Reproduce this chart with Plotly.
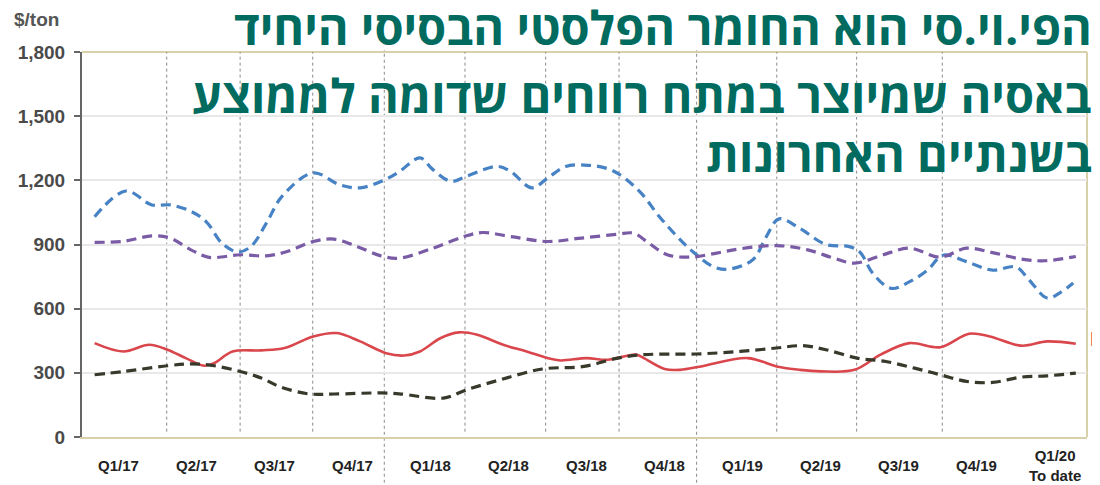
import plotly.graph_objects as go

# ---- data (x = months since Jan 2017, y = $/ton) ----
blue_x = [0.6, 1.8, 2.8, 3.5, 4.3, 4.9, 5.5, 6.1, 6.6, 7.2, 7.8, 9.0, 10.0, 10.8, 11.7, 12.3, 13.1, 13.6,
          14.3, 14.9, 16.1, 16.6, 17.4, 18.0, 18.7, 19.6, 20.3, 20.8, 21.6, 22.3, 23.0, 23.6, 24.4, 25.0,
          25.9, 26.4, 26.9, 27.7, 28.7, 29.6, 30.0, 30.5, 31.2, 31.9, 32.6, 33.2, 34.1, 35.1, 36.0, 36.5,
          37.2, 37.7, 38.2]
blue_y = [1030, 1150, 1085, 1085, 1055, 1005, 905, 865, 890, 1000, 1125, 1235, 1180, 1165, 1200, 1240, 1305, 1250,
          1195, 1220, 1265, 1240, 1165, 1210, 1265, 1270, 1255, 1225, 1140, 1030, 935, 865, 795, 785,
          830, 935, 1020, 975, 900, 890, 865, 765, 695, 725, 780, 850, 820, 780, 795, 735,
          650, 675, 720]

purple_x = [0.6, 1.7, 2.8, 3.5, 4.3, 5.0, 6.2, 7.2, 8.0, 9.0, 9.8, 10.7, 11.6, 12.3, 13.6, 14.8, 15.5, 16.6,
            18.0, 19.3, 20.7, 21.3, 21.9, 22.6, 23.5, 24.5, 25.4, 26.8, 28.0, 29.0, 29.8, 30.9, 31.9, 33.1,
            34.1, 35.1, 36.2, 37.1, 38.3]
purple_y = [910, 915, 940, 930, 875, 840, 852, 847, 867, 914, 925, 890, 847, 836, 883, 937, 956, 937,
            914, 930, 948, 953, 906, 852, 841, 860, 880, 895, 875, 836, 813, 852, 883, 841,
            883, 862, 832, 824, 844]

red_x = [0.6, 1.7, 2.7, 3.4, 4.1, 4.8, 5.2, 5.9, 7.0, 7.9, 9.0, 9.9, 10.8, 11.8, 12.5, 13.1, 13.9, 14.6,
         15.3, 16.3, 17.2, 18.0, 18.5, 19.5, 20.3, 21.4, 21.7, 22.5, 23.1, 23.9, 25.7, 26.8, 27.7, 28.5,
         29.8, 30.8, 31.9, 33.1, 34.2, 35.0, 36.2, 37.2, 38.3]
red_y = [439, 400, 431, 408, 369, 333, 346, 400, 405, 416, 470, 486, 447, 392, 381, 400, 463, 489,
         478, 431, 400, 369, 358, 369, 361, 385, 369, 318, 314, 330, 369, 330, 314, 307,
         314, 385, 439, 420, 483, 470, 427, 447, 436]

black_x = [0.6, 1.7, 3.4, 4.3, 5.2, 6.2, 7.0, 7.7, 8.8, 9.8, 11.6, 12.3, 14.0, 14.9, 16.2, 17.8, 19.4,
           20.7, 21.7, 23.7, 25.4, 26.8, 27.8, 28.7, 29.9, 31.0, 32.1, 33.1, 34.1, 35.1, 36.2, 37.2, 38.3]
black_y = [291, 306, 333, 342, 333, 306, 276, 236, 202, 201, 206, 202, 182, 221, 268, 318, 330,
           369, 385, 388, 400, 416, 427, 408, 369, 353, 322, 291, 260, 255, 280, 286, 299]

quarter_labels = ["Q1/17", "Q2/17", "Q3/17", "Q4/17", "Q1/18", "Q2/18", "Q3/18", "Q4/18",
                  "Q1/19", "Q2/19", "Q3/19", "Q4/19", "Q1/20<br>To date"]
quarter_centers = [1.5 + 3 * i for i in range(len(quarter_labels))]
divider_x = [3.37, 6.19, 8.98, 11.73, 14.83, 17.93, 20.75, 23.73, 26.81, 29.88, 33.17]
year_divider_x = [11.73, 23.73]
y_ticks = [0, 300, 600, 900, 1200, 1500, 1800]

title_lines = ["הפי.וי.סי הוא החומר הפלסטי הבסיסי היחיד",
               "באסיה שמיוצר במתח רווחים שדומה לממוצע",
               "בשנתיים האחרונות"]

fig = go.Figure()
fig.add_trace(go.Scatter(x=blue_x, y=blue_y, mode="lines", line=dict(color="#4682c4", width=3.2, dash="10px,6px", shape="spline", smoothing=1.0), name="blue"))
fig.add_trace(go.Scatter(x=purple_x, y=purple_y, mode="lines", line=dict(color="#7a5ba6", width=3.2, dash="10px,6px", shape="spline", smoothing=1.0), name="purple"))
fig.add_trace(go.Scatter(x=red_x, y=red_y, mode="lines", line=dict(color="#d9474d", width=2.6, shape="spline", smoothing=1.0), name="PVC"))
fig.add_trace(go.Scatter(x=black_x, y=black_y, mode="lines", line=dict(color="#38392b", width=3.2, dash="10px,6px", shape="spline", smoothing=1.0), name="black"))

shapes = []
for dx in divider_x:
    if dx in year_divider_x:
        shapes.append(dict(type="line", xref="x", yref="paper", x0=dx, x1=dx, y0=-0.15, y1=1.005,
                           line=dict(color="#8a8a8a", width=1, dash="dot"), layer="below"))
    else:
        shapes.append(dict(type="line", xref="x", yref="y", x0=dx, x1=dx, y0=25, y1=1810,
                           line=dict(color="#8a8a8a", width=1, dash="dot"), layer="below"))
# tan frame: top and right
shapes.append(dict(type="line", xref="paper", yref="paper", x0=0, x1=1, y0=1, y1=1,
                   line=dict(color="#d8d0a8", width=2), layer="below"))
shapes.append(dict(type="line", xref="paper", yref="paper", x0=1, x1=1, y0=0, y1=1,
                   line=dict(color="#d8d0a8", width=2), layer="below"))

annotations = []
for xc, lab in zip(quarter_centers, quarter_labels):
    annotations.append(dict(x=xc, y=-0.075, xref="x", yref="paper", text="<b>" + lab + "</b>", showarrow=False,
                            xanchor="center", yanchor="middle",
                            font=dict(family="Liberation Sans, Arial", size=15, color="#222222")))
annotations.append(dict(x=-0.069, y=1.114, xref="paper", yref="paper", text="<b>$/ton</b>", showarrow=False,
                        xanchor="left", yanchor="top", borderpad=0,
                        font=dict(family="Liberation Sans, Arial", size=19, color="#555555")))
annotations.append(dict(x=1.0005, y=(429 - 330) / 385, xref="paper", yref="paper", text="<b>PVC</b>", showarrow=False,
                        xanchor="left", yanchor="middle",
                        font=dict(family="Liberation Sans, Arial", size=21, color="#d9474d")))
title_y = [1.065, 0.888, 0.735]
for ty, line in zip(title_y, title_lines):
    annotations.append(dict(x=1.007, y=ty, xref="paper", yref="paper", text="<b>" + line + "</b>", showarrow=False,
                            xanchor="right", yanchor="middle",
                            font=dict(family="Open Sans", size=47, color="#006b5e")))

fig.update_layout(
    width=1092, height=477,
    margin=dict(l=74, r=13, t=44, b=48, autoexpand=False),
    paper_bgcolor="white", plot_bgcolor="white",
    showlegend=False,
    shapes=shapes, annotations=annotations,
    xaxis=dict(range=[0.115, 38.73], showgrid=False, zeroline=False, showticklabels=False, automargin=False,
               showline=True, linecolor="#d8d0a8", linewidth=2, ticks=""),
    yaxis=dict(range=[0, 1800], tickvals=y_ticks, tickformat=",", showgrid=True, gridcolor="#e8e8e8", gridwidth=1.5,
               zeroline=False, showline=True, linecolor="#666666", linewidth=2, ticks="outside", ticklen=6,
               tickcolor="#666666", tickwidth=1.5, ticklabelstandoff=5, automargin=False,
               tickfont=dict(family="Liberation Sans, Arial", size=19, color="#4a4a4a", weight="bold"))
)

fig.write_html("out.html")
